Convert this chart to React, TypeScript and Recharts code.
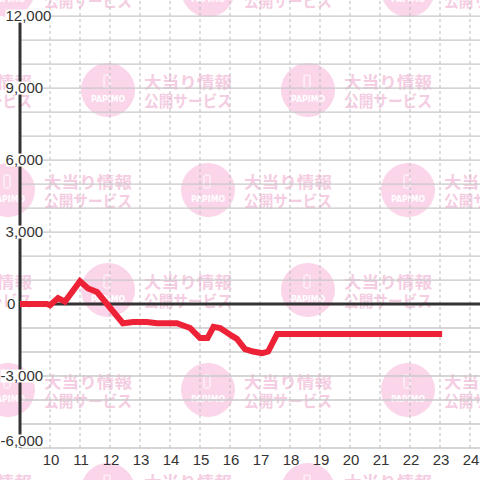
import React from "react";
import { Line, LineChart, ReferenceLine, XAxis, YAxis } from "recharts";

// hour of day (decimal) / medal difference
const HOURS = [
  9, 9.9, 10.0, 10.27, 10.5, 11.0, 11.27, 11.57, 12.43, 12.77, 13.23, 13.57, 14.23, 14.67,
  15.0, 15.25, 15.45, 15.67, 16.07, 16.23, 16.5, 16.77, 17.07, 17.27, 17.57, 17.73, 23.07,
];
const DIFF = [
  0, 0, -50, 250, 100, 950, 650, 500, -800, -750, -750, -800, -800, -1000,
  -1420, -1420, -950, -1000, -1330, -1450, -1880, -1980, -2050, -1980, -1250, -1250, -1250,
];

const X_TICKS = [10, 11, 12, 13, 14, 15, 16, 17, 18, 19, 20, 21, 22, 23, 24];
const Y_TICKS = [-6000, -3000, 0, 3000, 6000, 9000, 12000];
const Y_GRID = [-6000, -5000, -4000, -3000, -2000, -1000, 1000, 2000, 3000, 4000, 5000, 6000, 7000, 8000, 9000, 10000, 11000, 12000];

const WM_ROWS = [-10, 90, 190, 290, 390, 490];
const WM_EVEN_X = [8, 208, 408];
const WM_ODD_X = [-92, 108, 308];

const INK = "#333333";
const RED = "#ee2236";
const FONT = "'Liberation Sans', Arial, sans-serif";

const data = HOURS.map((h, i) => ({ h, v: DIFF[i] }));

function Watermark() {
  const marks: { x: number; y: number }[] = [];
  WM_ROWS.forEach((y, r) => (r % 2 === 0 ? WM_EVEN_X : WM_ODD_X).forEach((x) => marks.push({ x, y })));
  return (
    <svg width={480} height={480} style={{ position: "absolute", left: 0, top: 0 }}>
      <rect width={480} height={480} fill="#ffffff" />
      {marks.map((m, i) => (
        <g key={i}>
          <circle cx={m.x} cy={m.y} r={27} fill="#fbd5ea" />
          <rect x={m.x - 4} y={m.y - 15} width={6} height={13} rx={1.5} fill="none" stroke="#ffffff" strokeWidth={1} />
          <text x={m.x} y={m.y + 12} textAnchor="middle" fill="#ffffff" fontSize={8} fontWeight="bold"
            fontFamily="'DejaVu Sans', sans-serif" textLength={34} lengthAdjust="spacingAndGlyphs">PAPIMO</text>
          <text x={m.x + 36} y={m.y - 9.5} dominantBaseline="central" fill="#f5cde2" fontSize={16} fontWeight="bold"
            fontFamily="'Noto Sans CJK JP', sans-serif" textLength={88} lengthAdjust="spacingAndGlyphs">大当り情報</text>
          <text x={m.x + 36} y={m.y + 9.5} dominantBaseline="central" fill="#f5cde2" fontSize={16} fontWeight="bold"
            fontFamily="'Noto Sans CJK JP', sans-serif" textLength={88} lengthAdjust="spacingAndGlyphs">公開サービス</text>
        </g>
      ))}
    </svg>
  );
}

function YTick(props: any) {
  const { payload } = props;
  const v = payload.value as number;
  // bottom label sits a little above its grid line
  const y = v === -6000 ? props.y - 7 : props.y;
  const label = v.toLocaleString("en-US");
  const w = label.length * 8.3 - (label.includes(",") ? 4.1 : 0) - (v < 0 ? 3.3 : 0);
  let x0 = 43 - w;
  if (v === 0) x0 = 7;
  if (v === 12000) x0 = 5.5;
  return (
    <g>
      <rect x={x0} y={y - 6.5} width={w} height={13} fill="#ffffff" />
      <text x={x0} y={y + 5.4} fill={INK} fontSize={15} fontFamily={FONT}>{label}</text>
    </g>
  );
}

function XTick(props: any) {
  const { x, payload } = props;
  return (
    <text x={x + 1} y={465} textAnchor="middle" fill={INK} fontSize={15} fontFamily={FONT}>
      {payload.value}
    </text>
  );
}

export default function App() {
  return (
    <div style={{ position: "absolute", left: 0, top: 0, width: 480, height: 480 }}>
      <Watermark />
      <div style={{ position: "absolute", left: 0, top: 0 }}>
        <LineChart width={480} height={480} data={data} margin={{ top: 0, right: 0, bottom: 0, left: 0 }}>
          {X_TICKS.map((t) => (
            <ReferenceLine key={"x" + t} x={t} stroke="#bbbbbb" strokeDasharray="3 3" />
          ))}
          {Y_GRID.map((g) => (
            <ReferenceLine key={"y" + g} y={g} stroke="#c8c8c8" strokeWidth={1.3} />
          ))}
          <ReferenceLine y={0} stroke={INK} strokeWidth={3} />
          <ReferenceLine segment={[{ x: 9, y: -6000 }, { x: 9, y: 12000 }]} stroke={INK} strokeWidth={3} />
          <XAxis
            type="number"
            dataKey="h"
            domain={[9, 24.333]}
            ticks={X_TICKS}
            allowDataOverflow
            height={32}
            axisLine={false}
            tickLine={false}
            tick={<XTick />}
            interval={0}
          />
          <YAxis
            type="number"
            domain={[-6000, 12670]}
            ticks={Y_TICKS}
            allowDataOverflow
            width={20}
            axisLine={false}
            tickLine={false}
            tick={<YTick />}
            interval={0}
          />
          <Line
            type="linear"
            dataKey="v"
            stroke={RED}
            strokeWidth={6}
            dot={false}
            isAnimationActive={false}
          />
        </LineChart>
      </div>
    </div>
  );
}
